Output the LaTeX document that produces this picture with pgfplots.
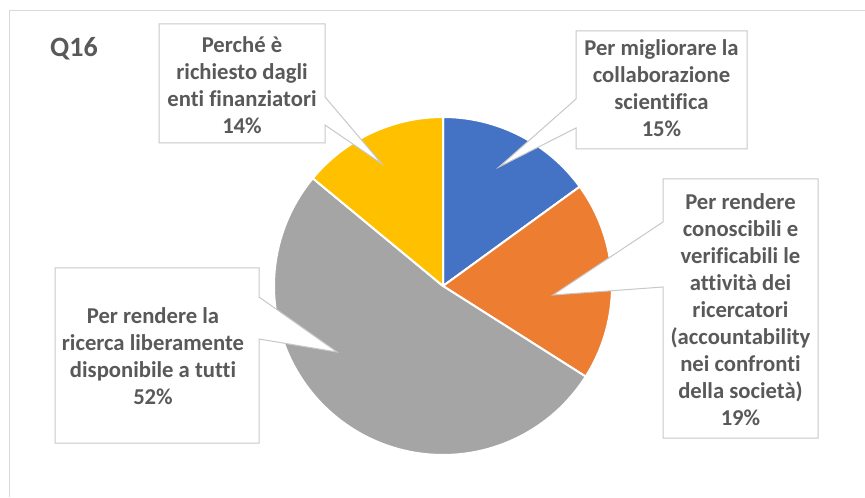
\documentclass[border=0pt]{standalone}
\usepackage{pgfplots}
\pgfplotsset{compat=1.18}
\usepackage{pgfplotstable}
\usepackage{fontspec}
\setmainfont{Carlito}[Ligatures=NoCommon]
\definecolor{cblue}{HTML}{4472C4}
\definecolor{corange}{HTML}{ED7D31}
\definecolor{cgray}{HTML}{A5A5A5}
\definecolor{cyellow}{HTML}{FFC000}
\definecolor{txtgray}{HTML}{595959}
\definecolor{boxgray}{HTML}{C8C8C8}
\definecolor{framegray}{HTML}{D9D9D9}
\pgfplotstableread{
slice pct
1 15
2 19
3 52
4 14
}\piedata
\begin{document}
\begin{tikzpicture}[x=0.75pt,y=0.75pt]
\useasboundingbox (0,0) rectangle (865,497);
\fill[white] (0,0) rectangle (865,497);
\draw[framegray, line width=0.75pt] (9.5,0) -- (9.5,486) -- (865,486);
\coordinate (pc) at (443,211);
\pgfplotstablegetelem{0}{pct}\of\piedata \let\pa\pgfplotsretval
\pgfplotstablegetelem{1}{pct}\of\piedata \let\pb\pgfplotsretval
\pgfplotstablegetelem{2}{pct}\of\piedata \let\pc\pgfplotsretval
\pgfplotstablegetelem{3}{pct}\of\piedata \let\pd\pgfplotsretval
\pgfmathsetmacro\aA{90}
\pgfmathsetmacro\aB{\aA-3.6*\pa}
\pgfmathsetmacro\aC{\aB-3.6*\pb}
\pgfmathsetmacro\aD{\aC-3.6*\pc}
\pgfmathsetmacro\aE{\aD-3.6*\pd}
\begin{axis}[at={(pc)}, anchor=center, scale only axis,
  width=253.5pt, height=253.5pt, xmin=-1, xmax=1, ymin=-1, ymax=1,
  hide axis, clip=false]
\addplot[fill=cblue, draw=white, line width=1.5pt, line join=round, domain=\aB:\aA, samples=60, variable=\t] ({cos(\t)},{sin(\t)}) -- (0,0) -- cycle;
\addplot[fill=corange, draw=white, line width=1.5pt, line join=round, domain=\aC:\aB, samples=60, variable=\t] ({cos(\t)},{sin(\t)}) -- (0,0) -- cycle;
\addplot[fill=cgray, draw=white, line width=1.5pt, line join=round, domain=\aD:\aC, samples=120, variable=\t] ({cos(\t)},{sin(\t)}) -- (0,0) -- cycle;
\addplot[fill=cyellow, draw=white, line width=1.5pt, line join=round, domain=\aE:\aD, samples=60, variable=\t] ({cos(\t)},{sin(\t)}) -- (0,0) -- cycle;
\end{axis}
\tikzset{callout/.style={fill=white, draw=boxgray, line width=0.75pt, line join=miter},
  lbl/.style={align=center, text=txtgray, font=\bfseries\fontsize{17}{20.25}\selectfont, inner sep=0pt}}
% box 1 (yellow)
\filldraw[callout] (159,473) -- (325,473) -- (325,400) -- (382,333) -- (325,372) -- (325,354) -- (159,354) -- cycle;
\node[lbl] at (242,412) {Perché è\\richiesto dagli\\enti finanziatori\\14\%};
% box 2 (blue)
\filldraw[callout] (576,466) -- (747,466) -- (747,348) -- (576,348) -- (576,369) -- (499,330) -- (576,398) -- cycle;
\node[lbl] at (661.5,409) {Per migliorare la\\collaborazione\\scientifica\\15\%};
% box 3 (orange)
\filldraw[callout] (663,318) -- (818,318) -- (818,59) -- (663,59) -- (663,210) -- (553,202) -- (663,275) -- cycle;
\node[lbl] at (740.5,187) {Per rendere\\conoscibili e\\verificabili le\\attività dei\\ricercatori\\(accountability\\nei confronti\\della società)\\19\%};
% box 4 (gray)
\filldraw[callout] (55,229) -- (259,229) -- (259,200) -- (337,145) -- (259,158) -- (259,54) -- (55,54) -- cycle;
\node[lbl] at (153,141) {Per rendere la\\ricerca liberamente\\disponibile a tutti\\52\%};
\node[text=txtgray, font=\bfseries\fontsize{21}{24}\selectfont, inner sep=0pt] at (74,448) {Q16};
\end{tikzpicture}
\end{document}
